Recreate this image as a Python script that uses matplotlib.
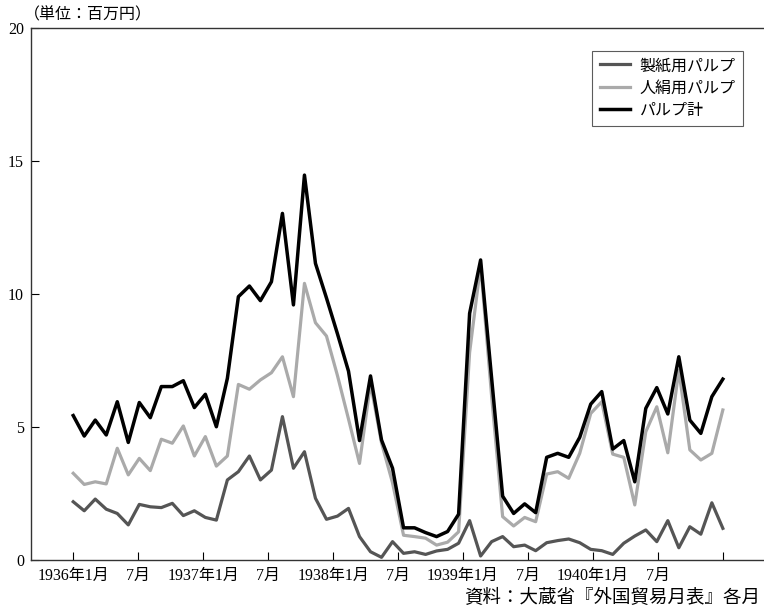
import numpy as np
import matplotlib
matplotlib.use('Agg')
import matplotlib.pyplot as plt

plt.rcParams['font.family'] = ['Liberation Serif', 'Noto Sans CJK JP']

# data: 1936年1月 - 1940年12月 (百万円)
seishi = [2.19, 1.85, 2.29, 1.91, 1.75, 1.32, 2.09, 2.00, 1.97, 2.13, 1.67, 1.85,
          1.60, 1.50, 3.01, 3.32, 3.91, 3.01, 3.38, 5.39, 3.45, 4.07, 2.32, 1.53,
          1.65, 1.94, 0.88, 0.31, 0.10, 0.69, 0.25, 0.31, 0.21, 0.34, 0.40, 0.63,
          1.48, 0.15, 0.69, 0.88, 0.50, 0.56, 0.35, 0.65, 0.73, 0.79, 0.65, 0.40,
          0.35, 0.21, 0.63, 0.90, 1.13, 0.69, 1.48, 0.46, 1.25, 0.97, 2.15, 1.19]
jinken = [3.26, 2.84, 2.94, 2.86, 4.20, 3.20, 3.82, 3.36, 4.54, 4.39, 5.04, 3.91,
          4.64, 3.53, 3.91, 6.60, 6.42, 6.77, 7.04, 7.64, 6.14, 10.40, 8.92, 8.42,
          6.93, 5.30, 3.63, 6.64, 4.40, 2.90, 0.93, 0.88, 0.82, 0.56, 0.67, 1.06,
          7.80, 11.09, 6.15, 1.63, 1.28, 1.60, 1.44, 3.23, 3.32, 3.07, 4.01, 5.51,
          5.95, 3.98, 3.86, 2.07, 4.82, 5.76, 4.03, 7.14, 4.14, 3.76, 4.01, 5.64]
total = [5.43, 4.66, 5.26, 4.70, 5.95, 4.42, 5.92, 5.35, 6.52, 6.52, 6.74, 5.73,
         6.23, 5.01, 6.83, 9.90, 10.30, 9.75, 10.46, 13.03, 9.59, 14.47, 11.15, 9.85,
         8.50, 7.10, 4.49, 6.92, 4.51, 3.45, 1.21, 1.21, 1.03, 0.88, 1.07, 1.72,
         9.27, 11.28, 6.83, 2.40, 1.75, 2.11, 1.78, 3.86, 4.01, 3.86, 4.61, 5.86,
         6.33, 4.17, 4.49, 2.94, 5.70, 6.48, 5.49, 7.64, 5.26, 4.76, 6.14, 6.80]
tick_labels = ['1936年1月', '7月', '1937年1月', '7月', '1938年1月', '7月',
               '1939年1月', '7月', '1940年1月', '7月', '']

x = np.linspace(0, 60, len(total))

fig = plt.figure(figsize=(7.64, 6.10), dpi=100)
ax = fig.add_axes([31/764, 50/610, 733/764, 532/610])

ax.plot(x, seishi, color='#555555', lw=2.3, label='製紙用パルプ')
ax.plot(x, jinken, color='#aaaaaa', lw=2.3, label='人絹用パルプ')
ax.plot(x, total, color='black', lw=2.5, label='パルプ計')

ax.set_xlim(-3.9, 63.8)
ax.set_ylim(0, 20)
ax.set_yticks([0, 5, 10, 15, 20])
ax.set_xticks(np.arange(0, 61, 6))
ax.set_xticklabels(tick_labels)
ax.tick_params(axis='both', direction='in', length=6, width=0.8, labelsize=11.5)
ax.tick_params(axis='x', pad=6)
ax.tick_params(axis='y', pad=5)
for s in ax.spines.values():
    s.set_linewidth(1.0)
    s.set_color('#333333')
ax.spines['right'].set_visible(False)

leg = ax.legend(loc='upper right', bbox_to_anchor=(0.971, 0.957), fontsize=11.5,
                frameon=True, fancybox=False, handlelength=1.9, borderpad=0.45,
                labelspacing=0.4, handletextpad=0.6, borderaxespad=0)
leg.get_frame().set_edgecolor('#333333')
leg.get_frame().set_linewidth(0.8)

fig.text(24/764, 1 - 15/610, '（単位：百万円）', fontsize=11.5, va='center', ha='left')
fig.text(760/764, 1 - 598/610, '資料：大蔵省『外国貿易月表』各月', fontsize=13.3,
         va='center', ha='right')

fig.savefig('out.png', dpi=100)
